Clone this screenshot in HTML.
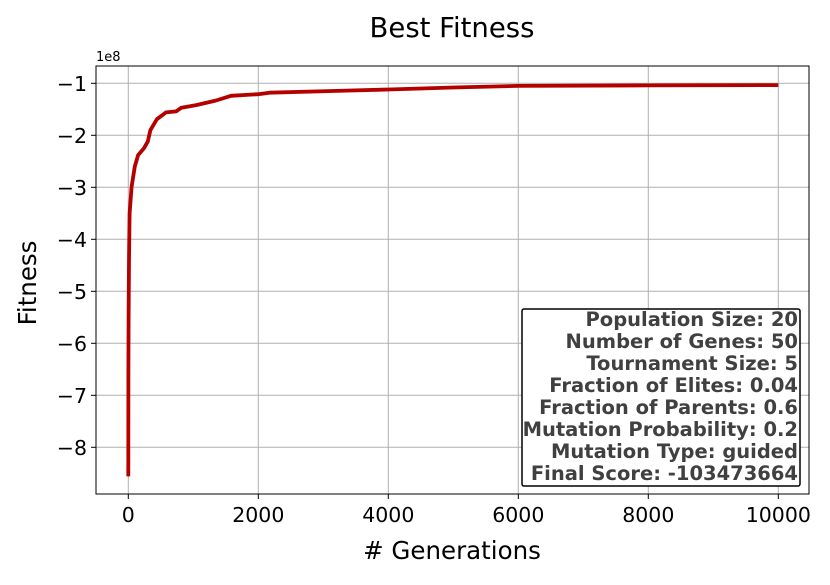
<!DOCTYPE html>
<html><head><meta charset="utf-8"><style>
body{margin:0;background:#fff;width:830px;height:580px;overflow:hidden}
svg{font-family:"DejaVu Sans","Liberation Sans",sans-serif}
</style></head><body>
<svg id="chart" width="830" height="580" viewBox="0 0 830 580">
<text x="452" y="37" font-size="27.5" text-anchor="middle">Best Fitness</text>
<g id="grid"></g>
<g id="series"></g>
<rect x="96" y="66" width="713" height="428" fill="none" stroke="#000" stroke-width="1"/>
<g id="ticks"></g>
<text x="96" y="61" font-size="13">1e8</text>
<text x="452" y="559" font-size="24.5" text-anchor="middle"># Generations</text>
<text transform="translate(36,283) rotate(-90)" font-size="24.5" text-anchor="middle">Fitness</text>
<g>
<rect x="522" y="309" width="278" height="177" fill="#fff" stroke="#000" stroke-width="1.5" rx="2"/>
<g font-size="19.5" font-weight="bold" fill="#404040" text-anchor="end">
<text x="798" y="326">Population Size: 20</text>
<text x="798" y="348">Number of Genes: 50</text>
<text x="798" y="370">Tournament Size: 5</text>
<text x="798" y="392">Fraction of Elites: 0.04</text>
<text x="798" y="414">Fraction of Parents: 0.6</text>
<text x="798" y="436">Mutation Probability: 0.2</text>
<text x="798" y="458">Mutation Type: guided</text>
<text x="798" y="480">Final Score: -103473664</text>
</g></g>
</svg>
<script>
const generations=[0,2,5,10,20,50,100,150,240,300,340,440,580,735,815,1045,1350,1580,2000,2170,3350,4000,5000,6000,8000,10000];
const fitness=[-8.56,-6.5,-5.52,-4.40,-3.5,-2.99,-2.60,-2.38,-2.25,-2.12,-1.90,-1.69,-1.56,-1.54,-1.47,-1.42,-1.33,-1.24,-1.21,-1.18,-1.14,-1.12,-1.08,-1.05,-1.04,-1.0347];
const xTicks=[0,2000,4000,6000,8000,10000];
const yTicks=[-1,-2,-3,-4,-5,-6,-7,-8];
const NS="http://www.w3.org/2000/svg";
function xs(v){return 128.3+v*0.065;}
function ys(v){return 83.3+(-1-v)*52;}
const grid=document.getElementById('grid'),ticks=document.getElementById('ticks'),series=document.getElementById('series');
function mk(tag,attrs,parent){const e=document.createElementNS(NS,tag);for(const k in attrs)e.setAttribute(k,attrs[k]);parent.appendChild(e);return e;}
xTicks.forEach(t=>{const x=xs(t);
 const g=mk('line',{x1:x,x2:x,y1:66,y2:494,stroke:'#b0b0b0','stroke-width':1},grid);
 
 
 const tk=mk('line',{x1:x,x2:x,y1:494,y2:499,stroke:'#000'},ticks);
 
 
 const l=mk('text',{x:x,y:522,'font-size':20.5,'text-anchor':'middle'},ticks);l.textContent=t;
 
 
});
yTicks.forEach(t=>{const y=ys(t);
 const g=mk('line',{x1:96,x2:809,y1:y,y2:y,stroke:'#b0b0b0','stroke-width':1},grid);
 
 
 const tk=mk('line',{x1:91,x2:96,y1:y,y2:y,stroke:'#000'},ticks);
 
 
 const l=mk('text',{x:87,y:y+7.5,'font-size':20.5,'text-anchor':'end'},ticks);l.textContent='\u2212'+(-t);
 
 
});
const pts=generations.map((g,i)=>xs(g).toFixed(1)+','+ys(fitness[i]).toFixed(1)).join(' ');
const line=mk('polyline',{points:pts,fill:'none',stroke:'#b50000','stroke-width':3.8,'stroke-linejoin':'round'},series);


</script>
</body></html>
